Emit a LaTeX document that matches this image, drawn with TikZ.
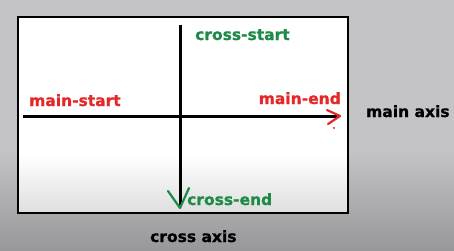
\documentclass[tikz,border=0pt]{standalone}
\usepackage{fontspec}
\setmainfont{DejaVu Sans}
\newfontfamily\heavyfont[FakeBold=0.9]{DejaVu Sans Bold}
\usetikzlibrary{positioning}
\definecolor{bggray}{RGB}{196,195,198}
\definecolor{bgdark}{RGB}{152,152,154}
\definecolor{boxlow}{RGB}{222,222,222}
\definecolor{mainred}{RGB}{228,40,40}
\definecolor{crossgreen}{RGB}{30,138,72}
\tikzset{
  lbl/.style={font=\heavyfont\fontsize{15.5}{16}\selectfont,inner sep=0pt},
  mainlbl/.style={lbl,text=mainred},
  crosslbl/.style={lbl,text=crossgreen},
  axislbl/.style={lbl,text=black},
  axisline/.style={line width=3pt},
  pen/.style={line width=2.2pt,line cap=round,line join=round}
}

\begin{document}
\begin{tikzpicture}[x=1pt,y=-1pt]
\useasboundingbox (0,0) rectangle (454,250);
\fill[bggray] (0,0) rectangle (454,150);
\shade[top color=bggray,bottom color=bgdark] (0,150) rectangle (454,250);
\fill[white] (18,17) rectangle (348,155);
\shade[top color=white,bottom color=boxlow] (18,155) rectangle (348,213);
\draw[line width=2.8pt] (18,17) rectangle (348,213);

\coordinate (mainfrom) at (23,116);
\coordinate (mainto) at (338,116);
\coordinate (crossfrom) at (180,25);
\coordinate (crossto) at (180,207);
\draw[axisline] (mainfrom) -- (mainto);
\draw[axisline] (crossfrom) -- (crossto);

\draw[pen,mainred] (327,110) -- (340,116) -- (328,124);
\fill[mainred] (334,128) circle (1.2pt);
\draw[pen,crossgreen] (168,191) -- (180,208) -- (189,188);

\node[mainlbl,anchor=base west] (mainstart) at (29,106) {main-start};
\node[mainlbl,anchor=base east] (mainend) at (341,104) {main-end};
\node[crosslbl,anchor=base west] (crossstart) at (195,40) {cross-start};
\node[crosslbl,anchor=base west] (crossend) at (187,205) {cross-end};
\node[axislbl,anchor=base west] (mainaxis) at (366,117) {main axis};
\node[axislbl,anchor=base west] (crossaxis) at (150,242) {cross axis};
\end{tikzpicture}
\end{document}
